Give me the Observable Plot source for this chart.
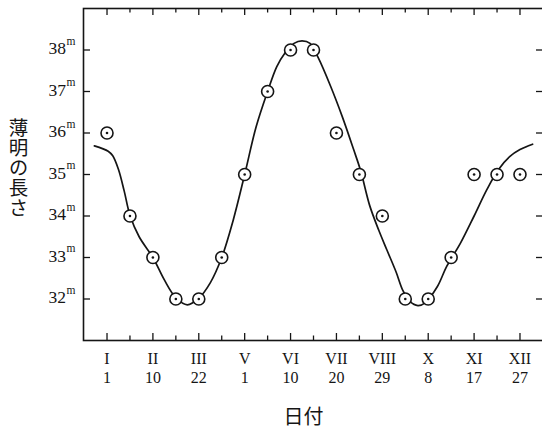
<!DOCTYPE html>
<html>
<head>
<meta charset="utf-8">
<script src="https://cdn.jsdelivr.net/npm/d3@7"></script>
<script src="https://cdn.jsdelivr.net/npm/@observablehq/plot@0.6"></script>
<style>
  html, body { margin: 0; padding: 0; background: #fff; overflow: hidden; }
  #chart { width: 542px; height: 430px; overflow: hidden; }
</style>
</head>
<body>
<div id="chart"></div>
<script>
// Observed points (day of year counted from I 1, value in minutes)
const pointDays = [0, 20, 40, 60, 80, 100, 120, 140, 160, 180, 200, 220, 240, 260, 280, 300, 320, 340, 360];
const pointValues = [36, 34, 33, 32, 32, 33, 35, 37, 38, 38, 36, 35, 34, 32, 32, 33, 35, 35, 35];

// Fitted smooth curve
const curveDays = [-11, 1, 5, 10, 15, 20, 28, 40, 50, 60, 70, 80, 90, 100, 110, 120, 130, 140, 148, 155, 163, 170, 177, 184, 195, 205, 215, 221, 229, 237, 244, 252, 258, 264, 271, 277, 288, 296, 308, 320, 331, 341, 351, 360, 371];
const curveValues = [35.69, 35.56, 35.45, 35.12, 34.6, 34.02, 33.5, 33.0, 32.46, 32.03, 31.86, 32.02, 32.39, 33.0, 33.9, 35.0, 36.15, 37.0, 37.6, 37.92, 38.16, 38.22, 38.16, 37.82, 37.12, 36.4, 35.6, 35.1, 34.25, 33.65, 33.18, 32.65, 32.2, 31.94, 31.84, 31.9, 32.3, 32.78, 33.34, 34.0, 34.63, 35.11, 35.43, 35.6, 35.73];

// Axis ticks and labels
const majorDays = [0, 40, 80, 120, 160, 200, 240, 280, 320, 360];
const minorDays = [20, 60, 100, 140, 180, 220, 260, 300, 340];
const monthLabels = ["I", "II", "III", "V", "VI", "VII", "VIII", "X", "XI", "XII"];
const dayLabels = ["1", "10", "22", "1", "10", "20", "29", "8", "17", "27"];
const yTicks = [32, 33, 34, 35, 36, 37, 38];
const yUnit = "m";
const yTitle = "薄明の長さ";
const xTitle = "日付";

const points = pointDays.map((d, i) => ({day: d, value: pointValues[i]}));
const curve = curveDays.map((d, i) => ({day: d, value: curveValues[i]}));
const majors = majorDays.map((d, i) => ({day: d, month: monthLabels[i], date: dayLabels[i]}));

const W = 542, H = 430;
const mt = 8, mb = 90, ml = 83, mr = -1;
const frameH = H - mt - mb;
const frameW = W - ml - mr;
const serif = "'Liberation Serif', 'Times New Roman', serif";
const cjk = "'Noto Sans CJK JP', sans-serif";
const ink = "#151515";

const plot = Plot.plot({
  width: W,
  height: H,
  marginTop: mt,
  marginBottom: mb,
  marginLeft: ml,
  marginRight: mr,
  style: {background: "#fff", fontFamily: serif, color: ink},
  x: {domain: [-20.5, 380.5], axis: null},
  y: {domain: [31, 39], axis: null},
  marks: [
    Plot.frame({stroke: ink, strokeWidth: 1.6}),
    // bottom ticks (inward)
    Plot.tickX(majorDays, {x: d => d, insetTop: frameH - 7, stroke: ink, strokeWidth: 1.3}),
    Plot.tickX(minorDays, {x: d => d, insetTop: frameH - 4.5, stroke: ink, strokeWidth: 1.3}),
    // top ticks (inward)
    Plot.tickX(majorDays, {x: d => d, insetBottom: frameH - 7, stroke: ink, strokeWidth: 1.3}),
    Plot.tickX(minorDays, {x: d => d, insetBottom: frameH - 4.5, stroke: ink, strokeWidth: 1.3}),
    // left / right ticks (inward)
    Plot.tickY(yTicks, {y: d => d, insetRight: frameW - 7, stroke: ink, strokeWidth: 1.3}),
    Plot.tickY(yTicks, {y: d => d, insetLeft: frameW - 7, stroke: ink, strokeWidth: 1.3}),
    // y tick labels with superscript m
    Plot.text(yTicks, {y: d => d, text: d => String(d), frameAnchor: "left", textAnchor: "end", lineAnchor: "middle", dx: -17.5, dy: -1.5, fontSize: 17.5, fill: ink, fontFamily: serif}),
    Plot.text(yTicks, {y: d => d, text: () => yUnit, frameAnchor: "left", textAnchor: "start", lineAnchor: "middle", dx: -17, dy: -9, fontSize: 11.5, fill: ink, fontFamily: serif}),
    // x tick labels: month (roman) and day
    Plot.text(majors, {x: "day", text: "month", frameAnchor: "bottom", textAnchor: "middle", lineAnchor: "middle", dy: 18, fontSize: 16, fill: ink, fontFamily: serif}),
    Plot.text(majors, {x: "day", text: "date", frameAnchor: "bottom", textAnchor: "middle", lineAnchor: "middle", dy: 37, fontSize: 16, fill: ink, fontFamily: serif}),
    // axis titles
    Plot.text([yTitle], {text: d => d, frameAnchor: "left", textAnchor: "middle", lineAnchor: "middle", dx: -65, dy: -13, fontSize: 19.5, fill: ink, fontFamily: cjk}),
    Plot.text([xTitle], {text: d => d, frameAnchor: "bottom", textAnchor: "middle", lineAnchor: "middle", dx: -10, dy: 77, fontSize: 20, fill: ink, fontFamily: cjk}),
    // fitted curve
    Plot.line(curve, {x: "day", y: "value", curve: "catmull-rom", stroke: ink, strokeWidth: 1.7}),
    // observed points: circle with centre dot
    Plot.dot(points, {x: "day", y: "value", r: 6, stroke: ink, fill: "#fff", strokeWidth: 1.6}),
    Plot.dot(points, {x: "day", y: "value", r: 1.3, fill: ink, stroke: "none"})
  ]
});

// set the y title in upright vertical writing, one glyph under another
d3.select(plot).selectAll("text")
  .filter(function () { return this.textContent === yTitle; })
  .attr("dy", null)
  .style("writing-mode", "vertical-rl")
  .style("text-orientation", "upright")
  .style("dominant-baseline", "central")
  .attr("letter-spacing", "0.5px");

document.getElementById("chart").appendChild(plot);
</script>
</body>
</html>
